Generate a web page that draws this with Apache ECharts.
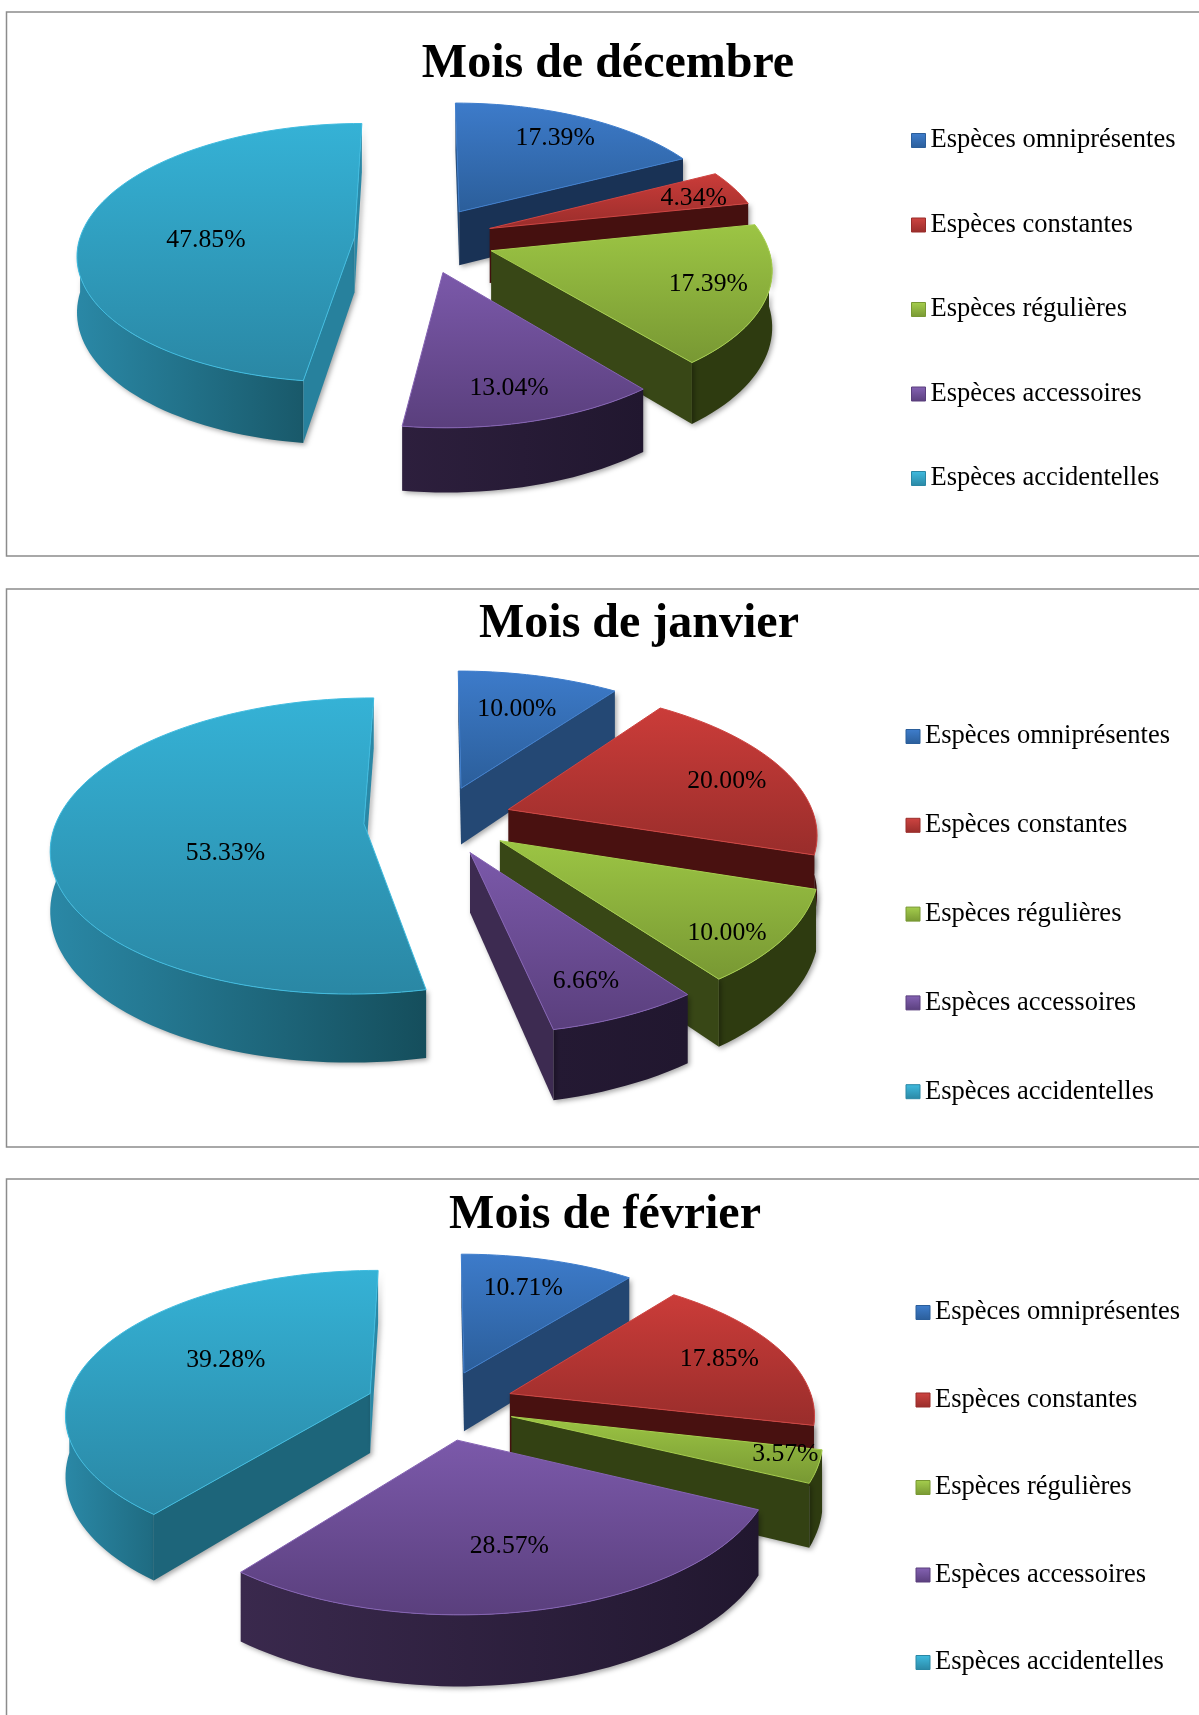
<!DOCTYPE html>
<html>
<head>
<meta charset="utf-8">
<style>
  html, body { margin: 0; padding: 0; background: #fff; }
  #main { width: 1199px; height: 1715px; }
</style>
<script src="https://cdn.jsdelivr.net/npm/echarts@6/dist/echarts.min.js"></script>
</head>
<body>
<div id="main"></div>
<script>
const categories = ['Espèces omniprésentes', 'Espèces constantes', 'Espèces régulières', 'Espèces accessoires', 'Espèces accidentelles']
const decemberValues = [17.39, 4.34, 17.39, 13.04, 47.85]
const januaryValues = [10.00, 20.00, 10.00, 6.66, 53.33]
const februaryValues = [10.71, 17.85, 3.57, 28.57, 39.28]

// couleurs par catégorie : dessus clair/foncé, paroi claire/foncée, liseré
const palette = [
  { top: ['#3d7bca', '#2b5e9a'], wall: ['#33669f', '#162c4c'], rim: '#3f7ecd' },
  { top: ['#cb3c39', '#992d2b'], wall: ['#5a1614', '#45100f'], rim: '#cf4542' },
  { top: ['#9cc544', '#789833'], wall: ['#41521c', '#2e3b10'], rim: '#a6cf4e' },
  { top: ['#7b59aa', '#5a3f7d'], wall: ['#503868', '#21172f'], rim: '#8563b4' },
  { top: ['#35b2d6', '#2a87a4'], wall: ['#2a88a6', '#134956'], rim: '#40bce0' },
]

// réglages de chaque camembert
const charts = [
  {
    title: 'Mois de décembre', values: decemberValues,
    titleX: 608, titleTop: 41,
    frame: [6.5, 12, 1300, 544],
    cx: 423, cy: 239.5, rx: 275, ry: 128, persp: 0.12, depth: 55, explode: [0.26, 0.26, 0.26, 0.26, 0.25],
    labelR: [0.77, 0.82, 0.79, 0.79, 0.54], labelDeg: [31, 72, 108, 165, 268],
    legendX: 911, legendTop: 127, legendStep: 84,
  },
  {
    title: 'Mois de janvier', values: januaryValues,
    titleX: 639, titleTop: 601,
    frame: [6.5, 589, 1300, 558],
    cx: 439, cy: 820, rx: 307, ry: 143.6, persp: 0.15, depth: 58, explode: [0.24, 0.24, 0.24, 0.24, 0.245],
    labelR: [0.69, 0.78, 0.855, 0.80, 0.47], labelDeg: [18, 74, 131, 157, 246],
    legendX: 905.5, legendTop: 723, legendStep: 88.3,
  },
  {
    title: 'Mois de février', values: februaryValues,
    titleX: 605, titleTop: 1192,
    frame: [6.5, 1179, 1300, 700],
    cx: 440, cy: 1405, rx: 304, ry: 142, persp: 0.13, depth: 60, explode: [0.246, 0.246, 0.246, 0.246, 0.246],
    labelR: [0.73, 0.775, 0.89, 0.655, 0.565], labelDeg: [18, 70, 106, 167, 297],
    legendX: 915.5, legendTop: 1299, legendStep: 87,
  },
]

const serifFont = '"Liberation Serif", "Times New Roman", serif'
const legendFontSize = 26.5

function mix (a, b, t) {
  const pa = parseInt(a.slice(1), 16)
  const pb = parseInt(b.slice(1), 16)
  const ch = shift => Math.round(((pa >> shift) & 255) * (1 - t) + ((pb >> shift) & 255) * t)
  return `rgb(${ch(16)},${ch(8)},${ch(0)})`
}

function clamp01 (t) {
  return Math.max(0, Math.min(1, t))
}

// teinte d'une paroi radiale selon l'orientation de sa normale
function faceColor (wall, normalDeg) {
  const n = ((normalDeg % 360) + 360) % 360
  const t = n <= 180 ? clamp01((160 - n) / 70) : clamp01((n - 180) / 60) * 0.6
  return mix(wall[1], wall[0], t)
}

// teinte de la paroi extérieure selon l'angle
function arcColor (wall, deg) {
  return mix(wall[1], wall[0], clamp01((deg - 160) / 110))
}

function renderSlice (chart, index, value, params, api) {
  const total = chart.values.reduce((a, b) => a + b, 0)
  const before = chart.values.slice(0, index).reduce((a, b) => a + b, 0)
  const startDeg = before / total * 360
  const endDeg = (before + value) / total * 360
  const midRad = (startDeg + endDeg) / 2 * Math.PI / 180
  const offX = chart.explode[index] * Math.sin(midRad)
  const offY = -chart.explode[index] * Math.cos(midRad)
  const colors = palette[index]

  // disque incliné avec perspective
  const project = (x, y, h) => {
    const f = 1 / (1 - chart.persp * y)
    return [chart.cx + chart.rx * x * f, chart.cy + chart.ry * y * f + h * f]
  }
  const onDisc = (deg, r, h) => {
    const a = deg * Math.PI / 180
    return project(offX + r * Math.sin(a), offY - r * Math.cos(a), h)
  }
  const arc = (from, to, h) => {
    const pts = []
    const n = Math.max(2, Math.ceil((to - from) / 2))
    for (let i = 0; i <= n; i++) pts.push(onDisc(from + (to - from) * i / n, 1, h))
    return pts
  }

  const shadow = { shadowBlur: 5, shadowColor: 'rgba(0,0,0,0.35)', shadowOffsetX: 2, shadowOffsetY: 2 }
  const children = []
  const base = index * 10

  // paroi extérieure, seulement la partie tournée vers l'avant
  const arcFrom = Math.max(startDeg, 90)
  const arcTo = Math.min(endDeg, 270)
  if (arcTo > arcFrom) {
    const points = arc(arcFrom, arcTo, 0).concat(arc(arcFrom, arcTo, chart.depth).reverse())
    children.push({
      type: 'polygon',
      shape: { points },
      z2: base,
      style: Object.assign({
        fill: new echarts.graphic.LinearGradient(0, 0, 1, 0, [
          { offset: 0, color: arcColor(colors.wall, arcTo) },
          { offset: 1, color: arcColor(colors.wall, arcFrom) },
        ]),
      }, shadow),
    })
  }

  const apexTop = onDisc(0, 0, 0)
  const apexBottom = onDisc(0, 0, chart.depth)
  const addFace = (deg, normalDeg, z) => {
    children.push({
      type: 'polygon',
      shape: { points: [apexTop, onDisc(deg, 1, 0), onDisc(deg, 1, chart.depth), apexBottom] },
      z2: base + z,
      style: Object.assign({ fill: faceColor(colors.wall, normalDeg) }, shadow),
    })
  }
  if (onDisc(startDeg, 1, 0)[0] < apexTop[0]) addFace(startDeg, startDeg - 90, 1)
  if (onDisc(endDeg, 1, 0)[0] > apexTop[0]) addFace(endDeg, endDeg + 90, 2)

  // dessus de la part
  children.push({
    type: 'polygon',
    shape: { points: [apexTop].concat(arc(startDeg, endDeg, 0)) },
    z2: base + 3,
    style: {
      fill: new echarts.graphic.LinearGradient(0, 0, 0, 1, [
        { offset: 0, color: colors.top[0] },
        { offset: 1, color: colors.top[1] },
      ]),
      stroke: colors.rim,
      lineWidth: 1,
      lineJoin: 'round',
    },
  })

  const labelPos = onDisc(chart.labelDeg[index], chart.labelR[index], 0)
  children.push({
    type: 'text',
    x: labelPos[0],
    y: labelPos[1] + 1,
    z2: 100,
    style: {
      text: value.toFixed(2) + '%',
      fill: '#000',
      font: `25.7px ${serifFont}`,
      align: 'center',
      verticalAlign: 'middle',
    },
  })

  return { type: 'group', children }
}

const series = []
charts.forEach((chart, c) => {
  chart.values.forEach((value, i) => {
    series.push({
      type: 'custom',
      name: categories[i],
      coordinateSystem: 'none',
      data: [[value]],
      silent: true,
      animation: false,
      clip: false,
      itemStyle: { color: palette[i].top[0] },
      renderItem: (params, api) => renderSlice(charts[c], i, api.value(0), params, api),
    })
  })
})

const legendData = categories.map((name, i) => ({
  name,
  icon: 'rect',
  itemStyle: {
    color: new echarts.graphic.LinearGradient(0, 0, 0, 1, [
      { offset: 0, color: palette[i].rim },
      { offset: 1, color: palette[i].top[1] },
    ]),
    borderColor: palette[i].top[1],
    borderWidth: 1,
  },
}))

const myChart = echarts.init(document.getElementById('main'), null, { renderer: 'canvas' })
myChart.setOption({
  backgroundColor: '#fff',
  animation: false,
  title: charts.map(chart => ({
    text: chart.title,
    left: chart.titleX,
    top: chart.titleTop,
    textAlign: 'center',
    padding: 0,
    textStyle: { fontFamily: serifFont, fontWeight: 'bold', fontSize: 48, color: '#000' },
  })),
  legend: charts.map(chart => ({
    orient: 'vertical',
    left: chart.legendX,
    top: chart.legendTop,
    padding: 0,
    itemWidth: 14,
    itemHeight: 14,
    itemGap: chart.legendStep - legendFontSize,
    selectedMode: false,
    data: legendData,
    textStyle: { fontFamily: serifFont, fontSize: legendFontSize, color: '#000' },
  })),
  graphic: charts.map(chart => ({
    type: 'rect',
    silent: true,
    z: 0,
    shape: { x: chart.frame[0], y: chart.frame[1], width: chart.frame[2], height: chart.frame[3] },
    style: { fill: 'none', stroke: '#8c8c8c', lineWidth: 1.5 },
  })),
  series,
})
</script>
</body>
</html>
